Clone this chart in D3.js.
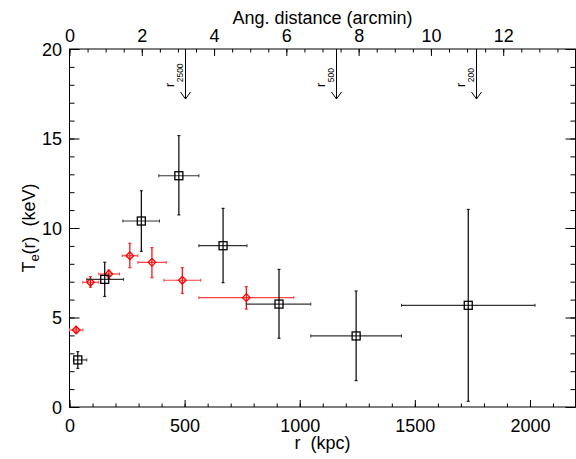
<!DOCTYPE html>
<html><head><meta charset="utf-8">
<script src="https://cdn.jsdelivr.net/npm/d3@7"></script>
<style>
html,body{margin:0;padding:0;background:#fff;}
svg{display:block;font-family:"Liberation Sans",Arial,Helvetica,sans-serif;}
</style></head>
<body><svg id="c" width="576" height="459"></svg>
<script>
// Black squares
const blackR   = [36, 153, 312, 475, 667, 910, 1245, 1732];
const blackRlo = [17, 75, 232, 388, 562, 768, 1048, 1442];
const blackRhi = [75, 235, 391, 562, 771, 1048, 1442, 2022];
const blackT   = [2.63, 7.13, 10.39, 12.92, 9.01, 5.75, 3.97, 5.68];
const blackTlo = [2.16, 6.18, 8.70, 10.73, 6.94, 3.84, 1.47, 0.32];
const blackThi = [3.09, 8.09, 12.08, 15.16, 11.10, 7.69, 6.48, 11.04];
// Red diamonds
const redR   = [29, 91, 171, 262, 358, 490, 768];
const redRlo = [0, 58, 127, 229, 297, 410, 562];
const redRhi = [58, 127, 217, 297, 420, 570, 974];
const redT   = [4.30, 6.97, 7.43, 8.45, 8.08, 7.08, 6.11];
const redTlo = [4.17, 6.69, 7.19, 7.78, 7.22, 6.35, 5.47];
const redThi = [4.43, 7.28, 7.65, 9.15, 8.90, 7.78, 6.72];
// Characteristic radii (kpc)
const radNames = ["2500", "500", "200"];
const radKpc = [502, 1156, 1765];
// Ticks
const xTicks = [0, 500, 1000, 1500, 2000];
const yTicks = [0, 5, 10, 15, 20];
const topTicks = [0, 2, 4, 6, 8, 10, 12];

const svg = d3.select("#c");
const L = 69.5, R = 575.5, T = 49, B = 407;
const x = d3.scaleLinear().domain([0, 2200]).range([L, 576]);
const xa = d3.scaleLinear().domain([0, 14]).range([L, R]);
const y = d3.scaleLinear().domain([0, 20]).range([B, T]);
const fmt = d3.format("d");

const FS = 18;
function styleAxis(g){
  g.select(".domain").remove();
  g.selectAll("line").attr("stroke", "#000").attr("stroke-width", 1);
  g.selectAll("text").attr("font-size", FS).attr("fill", "#000")
   .attr("font-family", "Liberation Sans, Arial, sans-serif");
}
// bottom
svg.append("g").attr("transform", `translate(0,${B})`)
  .call(d3.axisBottom(x).tickValues(d3.range(0, 2201, 100)).tickSize(-3.5).tickFormat(""))
  .call(styleAxis);
svg.append("g").attr("transform", `translate(0,${B})`)
  .call(d3.axisBottom(x).tickValues(xTicks).tickSize(-7).tickFormat(fmt))
  .call(styleAxis)
  .call(g => g.selectAll("text").attr("y", 24.5).attr("dy", null));
// top
svg.append("g").attr("transform", `translate(0,${T})`)
  .call(d3.axisTop(xa).tickValues(d3.range(0, 14.01, 0.5)).tickSize(-3.5).tickFormat(""))
  .call(styleAxis);
svg.append("g").attr("transform", `translate(0,${T})`)
  .call(d3.axisTop(xa).tickValues(topTicks).tickSize(-7).tickFormat(fmt))
  .call(styleAxis)
  .call(g => g.selectAll("text").attr("y", -7).attr("dy", null));
// left
svg.append("g").attr("transform", `translate(${L},0)`)
  .call(d3.axisLeft(y).tickValues(d3.range(0, 20.01, 1)).tickSize(-5).tickFormat(""))
  .call(styleAxis);
svg.append("g").attr("transform", `translate(${L},0)`)
  .call(d3.axisLeft(y).tickValues(yTicks).tickSize(-10).tickFormat(fmt))
  .call(styleAxis)
  .call(g => g.selectAll("text").attr("x", -7.5).attr("dy", "0.36em"));
// right
svg.append("g").attr("transform", `translate(${R},0)`)
  .call(d3.axisRight(y).tickValues(d3.range(0, 20.01, 1)).tickSize(-5).tickFormat(""))
  .call(styleAxis);
svg.append("g").attr("transform", `translate(${R},0)`)
  .call(d3.axisRight(y).tickValues(yTicks).tickSize(-10).tickFormat(""))
  .call(styleAxis);
// frame
svg.append("rect").attr("x", L).attr("y", T).attr("width", R - L).attr("height", B - T)
  .attr("fill", "none").attr("stroke", "#000").attr("stroke-width", 1);

// axis titles
svg.append("text").attr("x", (L + R) / 2).attr("y", 23.5).attr("text-anchor", "middle")
  .attr("font-size", FS).text("Ang. distance (arcmin)");
svg.append("text").attr("x", (L + R) / 2).attr("y", 449).attr("text-anchor", "middle")
  .attr("font-size", FS).attr("xml:space", "preserve").text("r  (kpc)");
const yt = svg.append("text").attr("transform", `translate(35,${(T + B) / 2}) rotate(-90)`)
  .attr("text-anchor", "middle").attr("font-size", FS).attr("xml:space", "preserve");
yt.append("tspan").text("T");
yt.append("tspan").attr("font-size", 13).attr("dy", 4).text("e");
yt.append("tspan").attr("dy", -4).text("(r)  (keV)");

// arrows for characteristic radii
radKpc.forEach((r, i) => {
  const ax = Math.round(x(r)) + 0.5;
  const g = svg.append("g");
  g.append("line").attr("x1", ax).attr("x2", ax).attr("y1", T).attr("y2", 99)
    .attr("stroke", "#000").attr("stroke-width", 1);
  g.append("path").attr("d", `M${ax - 5},92 L${ax},99 L${ax + 5},92`)
    .attr("fill", "none").attr("stroke", "#000").attr("stroke-width", 1);
  const t = g.append("text").attr("transform", `translate(${ax - 11.5},87) rotate(-90)`)
    .attr("font-size", 12.5);
  t.append("tspan").text("r");
  t.append("tspan").attr("font-size", 8.5).attr("dy", 8.5).attr("dx", 0.5).text(radNames[i]);
});

// error bars helper
function drawSeries(R_, Rlo, Rhi, Tv, Tlo, Thi, color, hcolor, shape){
  const g = svg.append("g");
  const idx = d3.range(R_.length);
  const cap = 1.5;
  idx.forEach(i => {
    const cx = x(R_[i]), cy = y(Tv[i]);
    // horizontal
    g.append("line").attr("x1", x(Rlo[i])).attr("x2", x(Rhi[i])).attr("y1", cy).attr("y2", cy)
      .attr("stroke", hcolor).attr("stroke-width", 1.2);
    g.append("line").attr("x1", x(Rlo[i])).attr("x2", x(Rlo[i])).attr("y1", cy - cap).attr("y2", cy + cap)
      .attr("stroke", hcolor).attr("stroke-width", 1);
    g.append("line").attr("x1", x(Rhi[i])).attr("x2", x(Rhi[i])).attr("y1", cy - cap).attr("y2", cy + cap)
      .attr("stroke", hcolor).attr("stroke-width", 1);
    // vertical
    g.append("line").attr("x1", cx).attr("x2", cx).attr("y1", y(Tlo[i])).attr("y2", y(Thi[i]))
      .attr("stroke", color).attr("stroke-width", 1.2);
    g.append("line").attr("x1", cx - cap).attr("x2", cx + cap).attr("y1", y(Tlo[i])).attr("y2", y(Tlo[i]))
      .attr("stroke", color).attr("stroke-width", 1);
    g.append("line").attr("x1", cx - cap).attr("x2", cx + cap).attr("y1", y(Thi[i])).attr("y2", y(Thi[i]))
      .attr("stroke", color).attr("stroke-width", 1);
    if (shape === "square") {
      g.append("rect").attr("x", cx - 4).attr("y", cy - 4).attr("width", 8).attr("height", 8)
        .attr("fill", "none").attr("stroke", color).attr("stroke-width", 1.3);
    } else {
      g.append("path").attr("d", `M${cx},${cy - 3.8} L${cx + 3.8},${cy} L${cx},${cy + 3.8} L${cx - 3.8},${cy} Z`)
        .attr("fill", "none").attr("stroke", color).attr("stroke-width", 1.3);
    }
  });
}
drawSeries(redR, redRlo, redRhi, redT, redTlo, redThi, "#ff0000", "#ff4040", "diamond");
drawSeries(blackR, blackRlo, blackRhi, blackT, blackTlo, blackThi, "#000000", "#333333", "square");
</script></body></html>
